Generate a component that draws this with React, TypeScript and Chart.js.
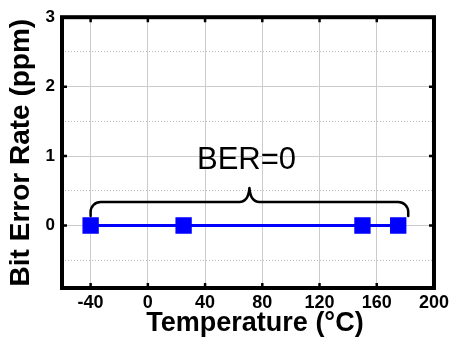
import { useEffect, useRef } from 'react';
import { Chart, registerables } from 'chart.js';

Chart.register(...registerables);

// ---- data ----
const temperatures = [-40, 25, 150, 175];
const berValues = [0, 0, 0, 0];
const xTickValues = [-40, 0, 40, 80, 120, 160, 200];
const yTickValues = [0, 1, 2, 3];
const yMinorTickValues = [-0.5, 0.5, 1.5, 2.5];
const xTitle = 'Temperature (°C)';
const yTitle = 'Bit Error Rate (ppm)';
const annotationText = 'BER=0';
const braceRange = [-40, 182];
const braceMid = 71;
const braceLevel = 0.34;
const annotationAnchor = [69, 0.81];

const X_MIN = -60;
const X_MAX = 200;
const Y_MIN = -0.9;
const Y_MAX = 3;

const FONT = '"Liberation Sans", Arial, Helvetica, sans-serif';

const decorPlugin = {
  id: 'decor',
  afterDatasetsDraw(chart: any) {
    const { ctx, scales } = chart;
    const xs = scales.x;
    const ys = scales.y;
    // brace
    const x1 = xs.getPixelForValue(braceRange[0]);
    const x2 = xs.getPixelForValue(braceRange[1]);
    const xm = xs.getPixelForValue(braceMid);
    const yl = ys.getPixelForValue(braceLevel);
    const drop = 14;
    const r = 10;
    ctx.save();
    ctx.strokeStyle = '#000';
    ctx.lineWidth = 2.5;
    ctx.lineCap = 'round';
    ctx.lineJoin = 'round';
    ctx.beginPath();
    ctx.moveTo(x1, yl + drop);
    ctx.arcTo(x1, yl, x1 + r, yl, r);
    ctx.lineTo(xm - 10, yl);
    ctx.quadraticCurveTo(xm - 1, yl, xm, yl - drop);
    ctx.quadraticCurveTo(xm + 1, yl, xm + 10, yl);
    ctx.lineTo(x2 - r, yl);
    ctx.arcTo(x2, yl, x2, yl + r, r);
    ctx.lineTo(x2, yl + drop);
    ctx.stroke();

    // annotation text
    ctx.fillStyle = '#000';
    ctx.font = `31px ${FONT}`;
    ctx.textAlign = 'center';
    ctx.textBaseline = 'alphabetic';
    ctx.fillText(
      annotationText,
      xs.getPixelForValue(annotationAnchor[0]),
      ys.getPixelForValue(annotationAnchor[1])
    );
    ctx.restore();
  },
  afterDraw(chart: any) {
    const { ctx, chartArea, scales } = chart;
    const { left, right, top, bottom } = chartArea;
    const xs = scales.x;
    const ys = scales.y;
    ctx.save();
    ctx.strokeStyle = '#000';
    // inward tick marks
    ctx.lineWidth = 2.5;
    const tl = 5;
    ctx.beginPath();
    xTickValues.forEach((v) => {
      const px = xs.getPixelForValue(v);
      if (px > left + 3 && px < right - 3) {
        ctx.moveTo(px, bottom);
        ctx.lineTo(px, bottom - tl);
        ctx.moveTo(px, top);
        ctx.lineTo(px, top + tl);
      }
    });
    yTickValues.forEach((v) => {
      const py = ys.getPixelForValue(v);
      if (py > top + 3 && py < bottom - 3) {
        ctx.moveTo(left, py);
        ctx.lineTo(left + tl, py);
        ctx.moveTo(right, py);
        ctx.lineTo(right - tl, py);
      }
    });
    ctx.stroke();
    // frame
    ctx.lineWidth = 4;
    ctx.lineJoin = 'miter';
    ctx.strokeRect(left, top, right - left, bottom - top);
    // x title
    ctx.fillStyle = '#000';
    ctx.font = `bold 27px ${FONT}`;
    ctx.textAlign = 'center';
    ctx.textBaseline = 'alphabetic';
    ctx.fillText(xTitle, (left + right) / 2 + 7, 331);
    ctx.restore();
  },
};

export default function App() {
  const canvasRef = useRef<HTMLCanvasElement | null>(null);

  useEffect(() => {
    document.body.style.margin = '0';
    const canvas = canvasRef.current;
    if (!canvas) return;
    const chart = new Chart(canvas, {
      type: 'line',
      data: {
        datasets: [
          {
            data: temperatures.map((t, i) => ({ x: t, y: berValues[i] })),
            borderColor: '#0000ff',
            backgroundColor: '#0000ff',
            borderWidth: 3,
            pointStyle: 'rect',
            pointRadius: 10.5,
            pointBorderWidth: 1.5,
            pointBorderColor: '#0000ff',
            pointBackgroundColor: '#0000ff',
            tension: 0,
          },
        ],
      },
      options: {
        animation: false,
        responsive: false,
        events: [],
        layout: { padding: { top: 13, right: 16, left: 0, bottom: 0 } },
        plugins: {
          legend: { display: false },
          tooltip: { enabled: false },
          title: { display: false },
        },
        scales: {
          x: {
            type: 'linear',
            min: X_MIN,
            max: X_MAX,
            afterBuildTicks: (scale: any) => {
              scale.ticks = xTickValues.map((v) => ({ value: v }));
            },
            afterFit: (scale: any) => {
              scale.height = 60;
            },
            grid: { color: '#cccccc', lineWidth: 1, drawTicks: false },
            border: { display: false },
            ticks: {
              color: '#000',
              padding: 4,
              maxRotation: 0,
              autoSkip: false,
              font: { family: FONT, size: 18, weight: 'bold' },
            },
          },
          y: {
            type: 'linear',
            min: Y_MIN,
            max: Y_MAX,
            afterBuildTicks: (scale: any) => {
              scale.ticks = yTickValues.map((v) => ({ value: v }));
            },
            afterFit: (scale: any) => {
              scale.width = 62;
            },
            grid: { color: '#cccccc', lineWidth: 1, drawTicks: false },
            border: { display: false },
            ticks: {
              color: '#000',
              padding: 7,
              font: { family: FONT, size: 17, weight: 'bold' },
            },
            title: {
              display: true,
              text: yTitle,
              color: '#000',
              font: { family: FONT, size: 28, weight: 'bold' },
              padding: { top: 4, bottom: 0 },
            },
          },
          yMinor: {
            type: 'linear',
            position: 'left',
            min: Y_MIN,
            max: Y_MAX,
            afterBuildTicks: (scale: any) => {
              scale.ticks = yMinorTickValues.map((v) => ({ value: v }));
            },
            afterFit: (scale: any) => {
              scale.width = 0;
            },
            grid: { color: '#bbbbbb', lineWidth: 1, drawTicks: false },
            border: { display: false, dash: [1, 2] },
            ticks: { display: false },
          },
        },
      } as any,
      plugins: [decorPlugin],
    });
    return () => chart.destroy();
  }, []);

  return (
    <div style={{ width: 453, height: 348 }}>
      <canvas ref={canvasRef} width={453} height={348} />
    </div>
  );
}
